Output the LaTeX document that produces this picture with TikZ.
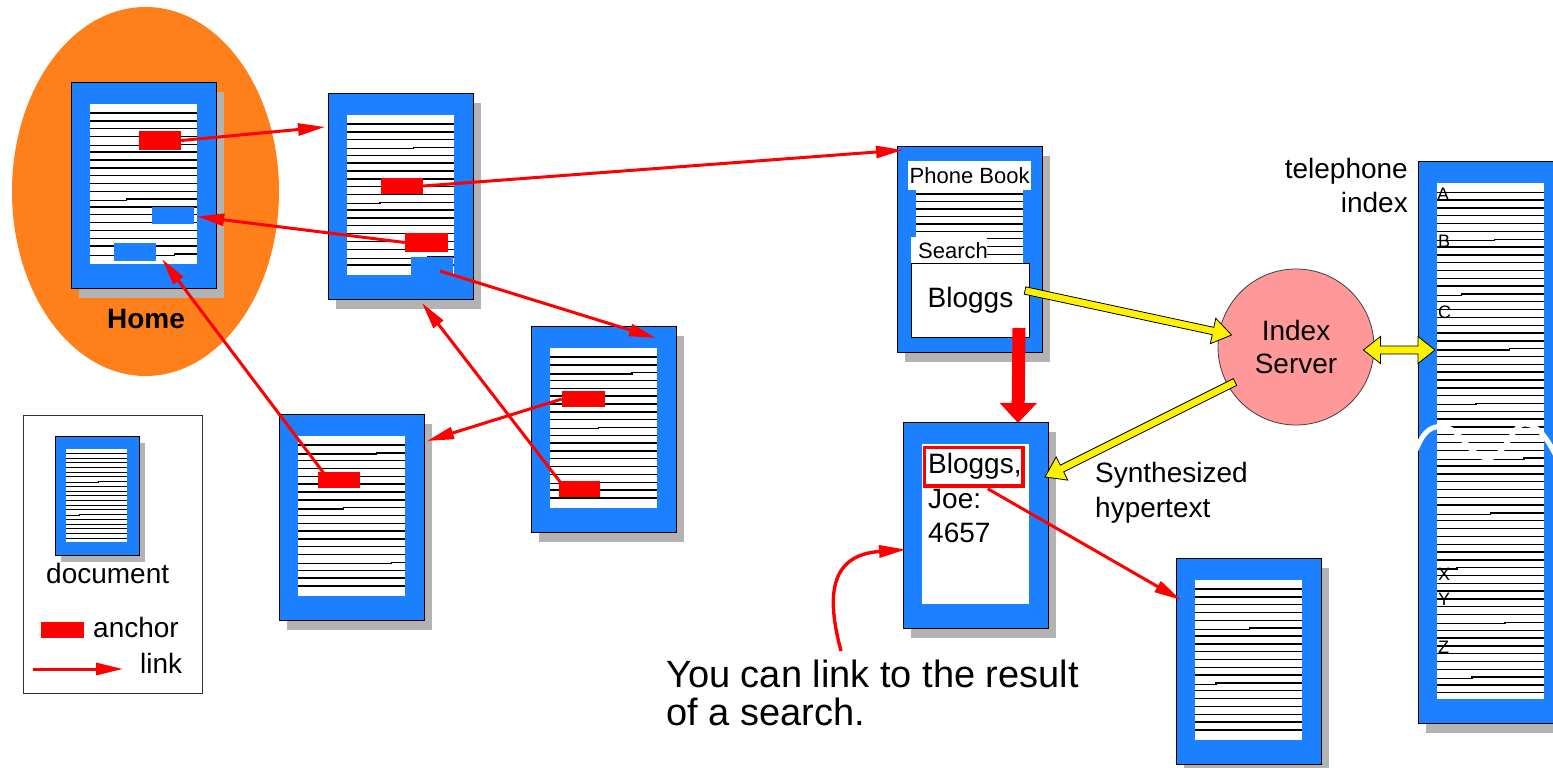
\documentclass[tikz,border=0pt]{standalone}
\usepackage{fontspec}
\setmainfont{Liberation Sans}
\usetikzlibrary{calc,shadows,arrows.meta,shapes.geometric}
\definecolor{docblue}{RGB}{28,128,255}
\definecolor{homeorange}{RGB}{255,128,26}
\definecolor{serverpink}{RGB}{255,153,153}
\definecolor{shadowgray}{RGB}{179,179,179}
\definecolor{linkred}{RGB}{255,0,0}
\newcommand\fs[2]{\fontsize{#1}{#2}\selectfont}
\tikzset{
  docframe/.style={draw=black, line width=1pt, fill=docblue, inner sep=0pt},
  docbox/.style={docframe, drop shadow={shadow xshift=7pt, shadow yshift=-9pt, fill=shadowgray, opacity=1}},
  docinner/.style={fill=white, inner sep=0pt},
  docline/.style={line width=1.4pt, black},
  redanchor/.style={fill=linkred, inner sep=0pt, minimum width=42pt, minimum height=17pt},
  blueanchor/.style={fill=docblue, inner sep=0pt, minimum width=42pt, minimum height=17pt},
  link/.style={draw=linkred, line width=3pt, -{Triangle[length=27pt,width=12pt]}},
  bigredarrow/.style={draw=linkred, line width=13pt, -{Triangle[length=20pt,width=36pt]}},
  fatarrow/.style={draw=black, line width=0.8pt, fill=yellow, line join=miter},
  txt/.style={inner sep=0pt, font=\fs{28}{34}},
  smalltxt/.style={inner sep=0pt, font=\fs{22}{26}},
  idxletter/.style={inner sep=0pt, font=\fs{18}{20}},
}
% horizontal text lines of a document
\newcommand\doclines[6]{%
  \foreach \i in {0,...,#5}{%
    \pgfmathsetmacro\yy{#3+\i*#4}%
    \pgfmathtruncatemacro\jj{mod(\i*3+#6,7)}%
    \ifnum\jj=0
      \pgfmathsetmacro\xj{(#1)+((#2)-(#1))*(0.12+0.76*mod(\i*37+#6*11,100)/100)}%
      \draw[docline] (#1,\yy+1.3) -- (\xj,\yy+1.3) -- (\xj,\yy) -- (#2,\yy);
    \else
      \draw[docline] (#1,\yy) -- (#2,\yy);
    \fi
  }%
}
% standard document: name, x, y (north west corner), seed for lines (0 = no lines)
\newcommand\stddoc[4]{%
  \node[docbox, minimum width=145pt, minimum height=206pt, anchor=north west] (#1) at (#2,#3) {};
  \node[docinner, minimum width=107pt, minimum height=160pt, anchor=north west] (#1-in) at ($(#1.north west)+(19,22)$) {};
  \ifnum#4>0 \doclines{#2+19}{#2+126}{#3+31}{7.83}{18}{#4}\fi
}
% fat yellow arrow from #1 to #2
\newcommand\fatarrow[2]{%
  \coordinate (fac) at ($(#2)!19pt!(#1)$);
  \draw[fatarrow] ($(#1)!3.75pt!90:(#2)$) -- ($(fac)!3.75pt!90:(#2)$) -- ($(fac)!13pt!90:(#2)$) -- (#2)
    -- ($(fac)!13pt!-90:(#2)$) -- ($(fac)!3.75pt!-90:(#2)$) -- ($(#1)!3.75pt!-90:(#2)$) -- cycle;
}
\newcommand\fatdarrow[2]{%
  \coordinate (fda) at ($(#1)!17pt!(#2)$);
  \coordinate (fdb) at ($(#2)!17pt!(#1)$);
  \draw[fatarrow] (#1) -- ($(fda)!13.5pt!90:(#2)$) -- ($(fda)!4pt!90:(#2)$) -- ($(fdb)!4pt!90:(#2)$)
    -- ($(fdb)!13.5pt!90:(#2)$) -- (#2) -- ($(fdb)!13.5pt!-90:(#2)$) -- ($(fdb)!4pt!-90:(#2)$)
    -- ($(fda)!4pt!-90:(#2)$) -- ($(fda)!13.5pt!-90:(#2)$) -- cycle;
}
\begin{document}
\begin{tikzpicture}[x=1pt,y=-1pt]
\useasboundingbox (0,0) rectangle (1553,768);
\fill[white] (0,0) rectangle (1553,768);

% ---------- Home ----------
\node[ellipse, fill=homeorange, minimum width=267pt, minimum height=369pt, inner sep=0pt] (homeoval) at (145.5,191.5) {};
\stddoc{home}{71}{82}{2}
\node[redanchor, minimum height=19pt] (hr1) at (160,140.5) {};
\node[blueanchor] (hb1) at (173,215.5) {};
\node[blueanchor, minimum height=18pt] (hb2) at (135,252) {};
\node[anchor=base, inner sep=0pt, font=\fs{28}{34}\bfseries] (hometxt) at (146,328) {Home};

% ---------- other documents ----------
\stddoc{doc2}{328}{93}{5}
\node[redanchor, minimum height=16pt] (d2r1) at (402,186) {};
\node[redanchor, minimum width=43pt, minimum height=19pt] (d2r2) at (426.5,242.5) {};
\node[blueanchor, minimum height=18pt] (d2b) at (432,266) {};

\stddoc{doc3}{531}{326}{1}
\node[redanchor, minimum width=43pt, minimum height=16pt] (d3r1) at (583.5,399) {};
\node[redanchor, minimum width=41pt, minimum height=16pt] (d3r2) at (579.5,489) {};

\stddoc{doc4}{279}{414}{4}
\node[redanchor, minimum height=16pt] (d4r) at (339,480) {};

% ---------- legend ----------
\node[draw=black!80, line width=1.2pt, minimum width=179pt, minimum height=278pt, anchor=north west, inner sep=0pt] (legend) at (23,415) {};
\node[docframe, drop shadow={shadow xshift=5pt, shadow yshift=-6pt, fill=shadowgray, opacity=1}, minimum width=84pt, minimum height=119pt, anchor=north west] (lgdoc) at (55,436) {};
\node[docinner, minimum width=61pt, minimum height=93pt, anchor=north west] (lgdoc-in) at ($(lgdoc.north west)+(11,13)$) {};
\begin{scope}[docline/.append style={line width=1pt}]
\doclines{66}{127}{453.3}{4.72}{18}{3}
\end{scope}
\node[txt, anchor=base west] (lgdoctxt) at (46,583) {document};
\node[redanchor, minimum width=43pt, minimum height=16pt] (lgr) at (62.5,630) {};
\node[txt, anchor=base west] (lgrtxt) at (93,637) {anchor};
\coordinate (lgA) at (33,669);
\coordinate (lgB) at (123,669);
\draw[link] (lgA) -- (lgB);
\node[txt, anchor=base west] (lglinktxt) at (140,673) {link};

% ---------- Phone Book ----------
\node[docbox, minimum width=145pt, minimum height=206pt, anchor=north west] (pb) at (897,146) {};
\fill[white] (916,190) rectangle (1023,237);
\foreach \yy in {194,201.5,209,216.5,224,231.5} \draw[docline] (916,\yy) -- (1023,\yy);
\fill[white] (911,237) rectangle (1023,263);
\foreach \yy in {238.5,246.5,254.5} \draw[docline] (987,\yy) -- (1023,\yy);
\node[fill=white, inner xsep=1.5pt, inner ysep=0pt, minimum height=29pt, anchor=north west, font=\fs{22}{26}] (pblabel) at (908,161) {Phone Book};
\node[smalltxt, anchor=base west] (srch) at (918,258) {Search};
\node[draw=black, line width=1pt, fill=white, minimum width=118pt, minimum height=74pt, anchor=north west, inner sep=0pt, font=\fs{28}{34}] (bloggs) at (911,263) {Bloggs};

% ---------- result document ----------
\stddoc{res}{903}{422}{0}
\node[draw=linkred, line width=3.5pt, minimum width=98.5pt, minimum height=38.5pt, anchor=north west, inner sep=0pt] (hit) at (922.75,445.75) {};
\node[txt, anchor=base west] (r1) at (928,473) {Bloggs,};
\node[txt, anchor=base west] (r2) at (928,508) {Joe:};
\node[txt, anchor=base west] (r3) at (928,542) {4657};

\stddoc{last}{1176}{558}{6}

% ---------- index server and telephone index ----------
\node[circle, draw=black!75, line width=0.8pt, fill=serverpink, minimum size=156pt, inner sep=0pt, align=center, font=\fs{28}{33}] (server) at (1296,347) {Index\\Server};

\node[docbox, minimum width=145pt, minimum height=562pt, anchor=north west] (tel) at (1418,161) {};
\node[docinner, minimum width=107pt, minimum height=516pt, anchor=north west] (tel-in) at ($(tel.north west)+(19,22)$) {};
\doclines{1437}{1544}{192.3}{7.82}{64}{3}
\node[idxletter, anchor=base west] (lA) at (1437,200) {A};
\node[idxletter, anchor=base west] (lB) at (1438,247) {B};
\node[idxletter, anchor=base west] (lC) at (1438,318) {C};
\node[idxletter, anchor=base west] (lX) at (1438,580) {X};
\node[idxletter, anchor=base west] (lY) at (1438,605) {Y};
\node[idxletter, anchor=base west] (lZ) at (1438,653) {Z};
\draw[white, line width=5pt] (1416,450) .. controls (1424,430) and (1432,425) .. (1445,427)
   .. controls (1462,430) and (1470,458) .. (1488,458)
   .. controls (1505,458) and (1512,424) .. (1525,424)
   .. controls (1538,424) and (1548,440) .. (1556,456);
\node[txt, anchor=base east] (tel1) at (1408,178) {telephone};
\node[txt, anchor=base east] (tel2) at (1408,212) {index};

% ---------- texts ----------
\node[txt, anchor=base west] (syn1) at (1095,482) {Synthesized};
\node[txt, anchor=base west] (syn2) at (1095,517) {hypertext};
\node[inner sep=0pt, font=\fs{38}{38}, anchor=base west] (note1) at (666,687) {You can link to the result};
\node[inner sep=0pt, font=\fs{38}{38}, anchor=base west] (note2) at (666,725) {of a search.};

% ---------- links ----------
\draw[link] (hr1.east) -- ($(doc2.north west)+(-3,34)$);
\draw[link] (d2r1.east) -- ($(pb.north west)+(6,4)$);
\draw[link] (d2r2.west) -- ($(hb1.east)+(3,1)$);
\draw[link] ($(d2b.center)+(8,5)$) -- ($(doc3.north east)+(-21,12)$);
\draw[link] (d3r1.west) -- ($(doc4.north east)+(2,27)$);
\draw[link] ($(d3r2.north west)+(2,2)$) -- ($(doc2.south)+(21,3)$);
\draw[link] ($(d4r.north west)+(8,4)$) -- ($(hb2.south east)+(6,-2)$);
\draw[link] ($(hit.south)+(14,1)$) -- ($(last.north west)+(5,42)$);
\coordinate (cstart) at (841,651);
\draw[link, line width=3.4pt] (cstart) .. controls (826,595) and (830,555) .. ($(res.west)+(3,24)$);
\draw[bigredarrow] ($(bloggs.south east)+(-11,-10)$) -- ($(res.north west)+(115,1)$);

% ---------- yellow arrows ----------
\coordinate (ya1) at ($(bloggs.east)+(-5,-10)$);
\coordinate (yb1) at ($(server.west)+(14,-12)$);
\fatarrow{ya1}{yb1}
\coordinate (ya2) at ($(server.center)+(-61,35)$);
\coordinate (yb2) at ($(res.north east)+(-4,55)$);
\fatarrow{ya2}{yb2}
\coordinate (ya3) at ($(server.east)+(-11,3)$);
\coordinate (yb3) at ($(tel.north west)+(17,189)$);
\fatdarrow{ya3}{yb3}
\end{tikzpicture}
\end{document}
